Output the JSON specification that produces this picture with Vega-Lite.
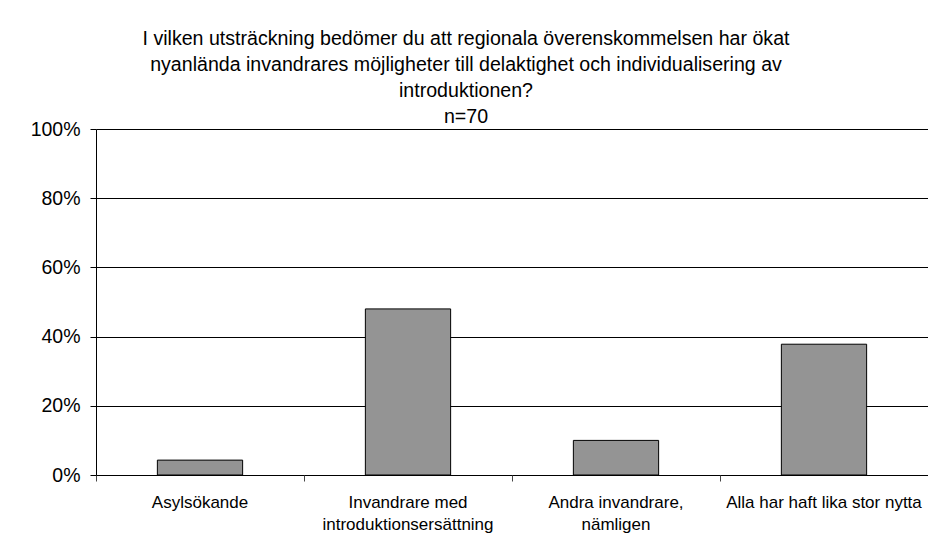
{
  "$schema": "https://vega.github.io/schema/vega-lite/v6.json",
  "width": 832,
  "height": 346,
  "autosize": {"type": "none"},
  "padding": {"left": 96, "top": 129, "right": 0, "bottom": 72},
  "background": "white",
  "config": {
    "font": "Liberation Sans",
    "view": {"stroke": null}
  },
  "title": {
    "text": ["I vilken utsträckning bedömer du att regionala överenskommelsen har ökat", "nyanlända invandrares möjligheter till delaktighet och individualisering av", "introduktionen?", "n=70"],
    "font": "Liberation Sans",
    "fontSize": 19.6,
    "fontWeight": "normal",
    "color": "black",
    "lineHeight": 26,
    "anchor": "middle",
    "dx": -46,
    "offset": -9
  },
  "data": {
    "values": [
      {"kategori": "Asylsökande", "andel": 0.043},
      {"kategori": "Invandrare med introduktionsersättning", "andel": 0.48},
      {"kategori": "Andra invandrare, nämligen", "andel": 0.10},
      {"kategori": "Alla har haft lika stor nytta", "andel": 0.378}
    ]
  },
  "resolve": {"axis": {"x": "independent"}},
  "layer": [
    {
      "mark": {"type": "bar", "fill": "#949494", "stroke": "black", "strokeWidth": 1, "width": {"band": 0.41}},
      "encoding": {
        "x": {
          "field": "kategori",
          "type": "nominal",
          "sort": null,
          "scale": {"paddingInner": 0, "paddingOuter": 0},
          "axis": {
            "title": null,
            "orient": "bottom",
            "labelAngle": 0,
            "ticks": false,
            "domain": false,
            "labelFont": "Liberation Sans",
            "labelFontSize": 17,
            "labelColor": "black",
            "labelPadding": 19,
            "labelLineHeight": 22,
            "labelLimit": 300,
            "labelExpr": "datum.value == 'Invandrare med introduktionsersättning' ? ['Invandrare med', 'introduktionsersättning'] : datum.value == 'Andra invandrare, nämligen' ? ['Andra invandrare,', 'nämligen'] : datum.value"
          }
        },
        "y": {
          "field": "andel",
          "type": "quantitative",
          "scale": {"domain": [0, 1]},
          "axis": {
            "title": null,
            "format": ".0%",
            "values": [0, 0.2, 0.4, 0.6, 0.8, 1],
            "grid": true,
            "gridColor": "black",
            "gridOpacity": 1,
            "gridWidth": 1,
            "domain": true,
            "domainColor": "black",
            "domainWidth": 1,
            "ticks": true,
            "tickColor": "black",
            "tickSize": 6,
            "labelFont": "Liberation Sans",
            "labelFontSize": 19.5,
            "labelColor": "black",
            "labelPadding": 10
          }
        }
      }
    },
    {
      "mark": {"type": "rule", "opacity": 0},
      "encoding": {
        "x": {
          "field": "kategori",
          "type": "nominal",
          "sort": null,
          "axis": {
            "title": null,
            "orient": "bottom",
            "labels": false,
            "domain": false,
            "grid": false,
            "ticks": true,
            "bandPosition": 0,
            "tickColor": "#444444",
            "tickWidth": 1,
            "tickOpacity": 1,
            "tickSize": 6
          }
        }
      }
    }
  ]
}
